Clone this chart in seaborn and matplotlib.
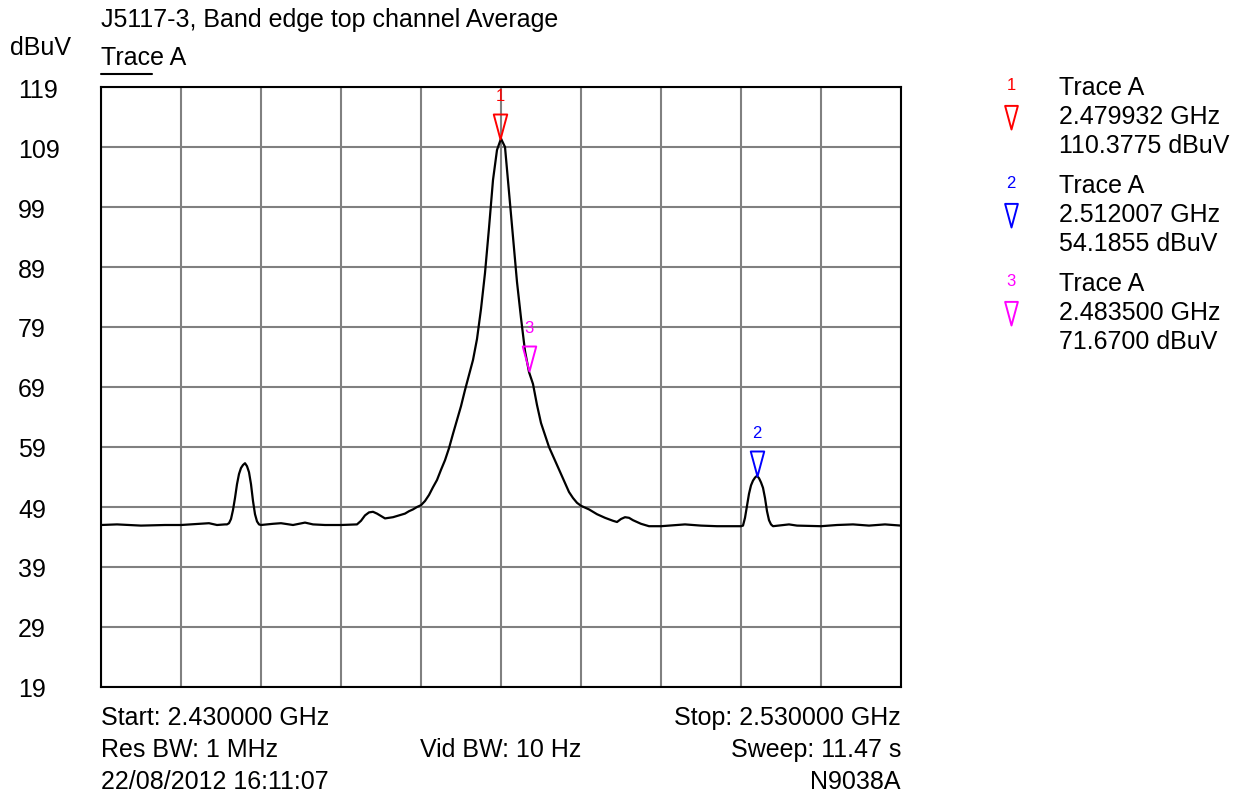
"""Spectrum analyser band-edge plot (J5117-3, top channel, average detector)."""

import matplotlib
matplotlib.use("Agg")

import matplotlib.pyplot as plt
import numpy as np
import pandas as pd
import seaborn as sns
from matplotlib.lines import Line2D
from matplotlib.path import Path

# ---- data ----
title = "J5117-3, Band edge top channel Average"
trace_name = "Trace A"
y_unit = "dBuV"

start_ghz = 2.430
stop_ghz = 2.530
y_ticks = [119, 109, 99, 89, 79, 69, 59, 49, 39, 29, 19]

trace_freq_mhz = [
    2430.0, 2432.0, 2435.0, 2438.0, 2440.0, 2443.5, 2444.5, 2445.5,
    2445.75, 2446.0, 2446.25, 2446.5, 2446.75, 2447.0, 2447.25, 2447.5,
    2447.75, 2448.0, 2448.25, 2448.5, 2448.75, 2449.0, 2449.25, 2449.5,
    2449.75, 2450.0,
    2451.5, 2452.5, 2454.0, 2455.5, 2456.5, 2458.0, 2460.0,
    2462.0, 2462.5, 2463.0, 2463.5, 2464.0, 2464.5, 2465.0, 2465.5,
    2466.0, 2466.5, 2467.0, 2467.5, 2468.0, 2468.5, 2469.0, 2469.5,
    2470.0, 2470.5, 2471.0, 2471.5, 2472.0, 2472.5, 2473.0, 2473.5,
    2474.0, 2474.5, 2475.0, 2475.5, 2476.0, 2476.5, 2477.0, 2477.5,
    2478.0, 2478.5, 2479.0, 2479.5, 2480.0,
    2480.5, 2481.0, 2481.5, 2482.0, 2482.5, 2483.0, 2483.5, 2484.0,
    2484.5, 2485.0, 2485.5, 2486.0, 2486.5, 2487.0, 2487.5, 2488.0,
    2488.5, 2489.0, 2489.5, 2490.0,
    2491.0, 2492.0, 2493.0, 2494.0, 2494.5, 2495.0, 2495.5, 2496.0,
    2496.5, 2497.0, 2497.5, 2498.5, 2500.0, 2503.0, 2505.0, 2507.0,
    2509.5, 2510.0,
    2510.25, 2510.5, 2510.75, 2511.0, 2511.25, 2511.5, 2511.75, 2512.0,
    2512.25, 2512.5, 2512.75, 2513.0, 2513.25, 2513.5, 2513.75, 2514.0,
    2516.0, 2517.0, 2520.0, 2522.0, 2524.0, 2526.0, 2528.0, 2530.0,
]
trace_level_dbuv = [
    46.0, 46.1, 45.9, 46.0, 46.0, 46.3, 46.0, 46.1,
    46.1, 46.3, 47.0, 48.5, 50.5, 52.8, 54.5, 55.5,
    56.0, 56.3, 55.8, 54.8, 52.8, 50.0, 47.8, 46.6,
    46.1, 46.0,
    46.2, 46.3, 46.0, 46.4, 46.1, 46.0, 46.0,
    46.1, 46.7, 47.6, 48.1, 48.2, 47.9, 47.5, 47.1,
    47.2, 47.3, 47.5, 47.7, 47.9, 48.3, 48.6, 49.0,
    49.3, 50.0, 51.0, 52.3, 53.5, 55.2, 56.8, 58.8,
    61.2, 63.5, 65.8, 68.5, 71.0, 73.5, 77.0, 82.0,
    88.0, 95.5, 103.5, 108.5, 110.4,
    109.0, 101.5, 94.0, 86.5, 80.5, 75.0, 71.5, 69.5,
    66.0, 63.0, 61.0, 59.0, 57.5, 56.0, 54.5, 53.0,
    51.5, 50.5, 49.7, 49.2,
    48.6, 47.8, 47.2, 46.7, 46.5, 47.0, 47.3, 47.2,
    46.8, 46.5, 46.2, 45.8, 45.8, 46.1, 45.9, 45.8,
    45.8, 45.8,
    45.9, 47.2, 49.2, 51.2, 52.6, 53.4, 53.9, 54.2,
    53.8, 53.1, 52.2, 50.5, 48.3, 46.8, 46.1, 45.8,
    46.1, 45.9, 45.8, 46.0, 46.1, 45.9, 46.1, 45.9,
]

marker_ids = [1, 2, 3]
marker_freq_ghz = [2.479932, 2.512007, 2.483500]
marker_level_dbuv = [110.3775, 54.1855, 71.6700]
marker_colors = ["#ff0000", "#0000ff", "#ff00ff"]

footer_rows = [
    ("Start: 2.430000 GHz", "", "Stop: 2.530000 GHz"),
    ("Res BW: 1 MHz", "Vid BW: 10 Hz", "Sweep: 11.47 s"),
    ("22/08/2012 16:11:07", "", "N9038A"),
]

# ---- figure ----
W, H = 1247, 803


def fx(px):
    return px / W


def fy(py):
    return 1 - py / H


sns.set_style("white")
plt.rcParams["font.family"] = ["Liberation Sans", "DejaVu Sans"]
plt.rcParams["text.color"] = "black"
plt.rcParams["ytick.color"] = "black"

FS = 18

fig = plt.figure(figsize=(W / 100, H / 100), dpi=100)
ax = fig.add_axes([fx(101), fy(688), 800 / W, 600 / H])

df = pd.DataFrame({
    "freq_ghz": np.array(trace_freq_mhz) / 1000.0,
    "level": trace_level_dbuv,
})
sns.lineplot(data=df, x="freq_ghz", y="level", ax=ax, color="black",
             linewidth=1.6, estimator=None, sort=False, zorder=3)

ax.set_xlim(start_ghz, stop_ghz)
ax.set_ylim(min(y_ticks), max(y_ticks))
ax.set_xticks(np.linspace(start_ghz, stop_ghz, 11))
ax.set_xticklabels([])
ax.set_yticks(y_ticks)
ax.set_yticklabels([str(v) for v in y_ticks], ha="left", fontsize=FS)
ax.tick_params(axis="x", length=0)
ax.tick_params(axis="y", length=0, pad=(101 - 18) * 0.72)
ax.set_xlabel("")
ax.set_ylabel("")
ax.grid(True, color="#808080", linewidth=1.5)
ax.set_axisbelow(True)
for sp in ax.spines.values():
    sp.set_color("black")
    sp.set_linewidth(1.5)
    sp.set_zorder(4)

# tall open triangle, tip at the anchor point
tri = Path([(-0.27, 1.0), (0.27, 1.0), (0.0, 0.0), (-0.27, 1.0)], closed=True)

for n, f, lvl, c in zip(marker_ids, marker_freq_ghz, marker_level_dbuv, marker_colors):
    ax.plot([f], [lvl], marker=tri, ms=36, mfc="none", mec=c, mew=1.4,
            ls="none", zorder=5, clip_on=False)
    ax.annotate(str(n), (f, lvl), xytext=(0, 31), textcoords="offset points",
                ha="center", va="center", color=c, fontsize=12)

# headers
fig.text(fx(101), fy(20), title, fontsize=FS, va="center")
fig.text(fx(10), fy(48), y_unit, fontsize=FS, va="center")
fig.text(fx(101), fy(58), trace_name, fontsize=FS, va="center")
fig.add_artist(Line2D([fx(101), fx(152)], [fy(75), fy(75)], color="black",
                      linewidth=1.5, transform=fig.transFigure))

# marker table on the right
for i, (n, f, lvl, c) in enumerate(zip(marker_ids, marker_freq_ghz,
                                        marker_level_dbuv, marker_colors)):
    yb = 88 + i * 98
    fig.text(fx(1011), fy(yb - 3), str(n), color=c, fontsize=12,
             ha="center", va="center")
    fig.add_artist(Line2D([fx(1011)], [fy(yb + 42)], marker=tri, ms=34,
                          mfc="none", mec=c, mew=1.4, ls="none",
                          transform=fig.transFigure))
    fig.text(fx(1059), fy(yb), trace_name, fontsize=FS, va="center")
    fig.text(fx(1059), fy(yb + 29), f"{f:.6f} GHz", fontsize=FS, va="center")
    fig.text(fx(1059), fy(yb + 58), f"{lvl:.4f} {y_unit}", fontsize=FS,
             va="center")

# footer
for r, (left, mid, right) in enumerate(footer_rows):
    yy = fy(718 + r * 32)
    if left:
        fig.text(fx(101), yy, left, fontsize=FS, va="center", ha="left")
    if mid:
        fig.text(fx(501), yy, mid, fontsize=FS, va="center", ha="center")
    if right:
        fig.text(fx(901), yy, right, fontsize=FS, va="center", ha="right")

fig.savefig("out.png", dpi=100)
plt.close(fig)
